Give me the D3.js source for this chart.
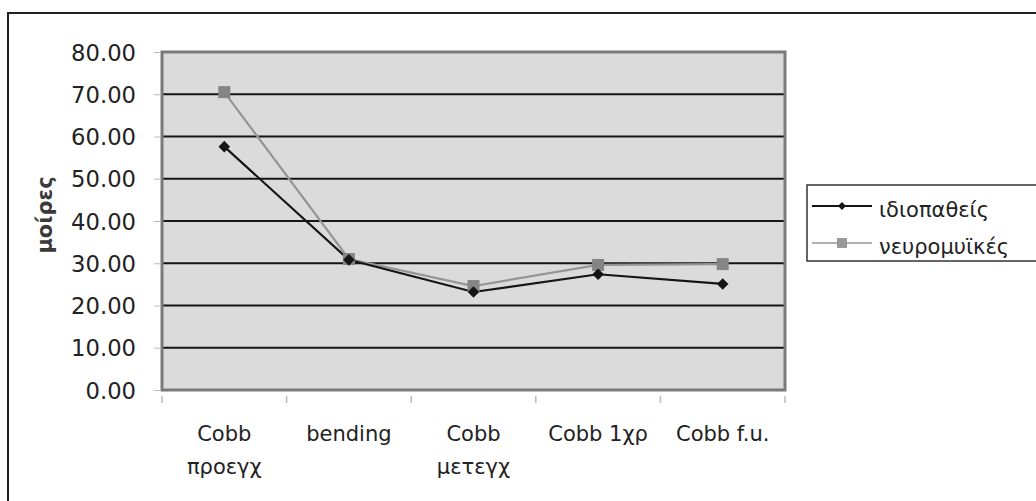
<!DOCTYPE html>
<html>
<head>
<meta charset="utf-8">
<script src="https://cdn.jsdelivr.net/npm/d3@7"></script>
<style>
  html, body { margin: 0; padding: 0; background: #fff; }
  svg { display: block; font-family: "DejaVu Sans", Verdana, sans-serif; }
</style>
</head>
<body>
<svg id="chart" width="1036" height="501"></svg>
<script>
// Categories (multi-line labels) and the two series of mean Cobb angles
const categories = [
  ["Cobb", "προεγχ"],
  ["bending"],
  ["Cobb", "μετεγχ"],
  ["Cobb 1χρ"],
  ["Cobb f.u."]
];
const idiopathic = [57.6, 30.8, 23.2, 27.4, 25.1];
const neuromuscular = [70.5, 31.0, 24.6, 29.6, 29.8];
const seriesNames = ["ιδιοπαθείς", "νευρομυϊκές"];
const yTicks = [0, 10, 20, 30, 40, 50, 60, 70, 80];
const yTitle = "μοίρες";

const svg = d3.select("#chart");

// Outer chart frame (runs off the right and bottom edges)
svg.append("rect")
  .attr("x", 8).attr("y", 13)
  .attr("width", 1100).attr("height", 600)
  .attr("fill", "none").attr("stroke", "#222").attr("stroke-width", 2);

const plot = { left: 162, top: 52, right: 785, bottom: 390 };

const x = d3.scaleBand()
  .domain(d3.range(categories.length))
  .range([plot.left, plot.right])
  .paddingInner(0).paddingOuter(0);

const y = d3.scaleLinear().domain([0, 80]).range([plot.bottom, plot.top]);

// Plot area background
svg.append("rect")
  .attr("x", plot.left).attr("y", plot.top)
  .attr("width", plot.right - plot.left).attr("height", plot.bottom - plot.top)
  .attr("fill", "#dbdbdb");

// Horizontal gridlines
svg.append("g").selectAll("line")
  .data(yTicks.filter(t => t > 0 && t < 80))
  .join("line")
  .attr("x1", plot.left).attr("x2", plot.right)
  .attr("y1", d => y(d)).attr("y2", d => y(d))
  .attr("stroke", "#151515").attr("stroke-width", 2);

// Plot border
svg.append("rect")
  .attr("x", plot.left).attr("y", plot.top)
  .attr("width", plot.right - plot.left).attr("height", plot.bottom - plot.top)
  .attr("fill", "none").attr("stroke", "#7a7a7a").attr("stroke-width", 3);

// Y axis
const yAxis = d3.axisLeft(y).tickValues(yTicks).tickFormat(d3.format(".2f"))
  .tickSize(6).tickPadding(18);
const gy = svg.append("g")
  .attr("transform", `translate(${plot.left - 2},0)`)
  .call(yAxis);
gy.select(".domain").remove();
gy.selectAll(".tick line").attr("stroke", "#bbb");
gy.selectAll(".tick text")
  .attr("font-size", 22.7)
  .attr("font-family", "DejaVu Sans, Verdana, sans-serif")
  .attr("fill", "#222").attr("dy", "0.36em");

// X axis tick marks at category boundaries
const boundaries = d3.range(categories.length + 1).map(i =>
  i < categories.length ? x(i) : x(categories.length - 1) + x.bandwidth());
svg.append("g").selectAll("line")
  .data(boundaries)
  .join("line")
  .attr("x1", d => d).attr("x2", d => d)
  .attr("y1", plot.bottom + 6).attr("y2", plot.bottom + 13)
  .attr("stroke", "#bbb").attr("stroke-width", 1.5);

// Category labels
const cx = i => x(i) + x.bandwidth() / 2;
const labels = svg.append("g")
  .attr("font-size", 21).attr("fill", "#222").attr("text-anchor", "middle");
categories.forEach((lines, i) => {
  lines.forEach((t, j) => {
    labels.append("text")
      .attr("x", cx(i)).attr("y", 441 + j * 33)
      .text(t);
  });
});

// Y axis title
svg.append("text")
  .attr("transform", "translate(52,215) rotate(-90)")
  .attr("text-anchor", "middle")
  .attr("font-size", 21).attr("font-weight", "bold").attr("fill", "#3a3a3a")
  .text(yTitle);

// Series lines and markers
const line = d3.line().x((d, i) => cx(i)).y(d => y(d));

svg.append("path").datum(neuromuscular)
  .attr("d", line).attr("fill", "none")
  .attr("stroke", "#959595").attr("stroke-width", 2.2);
svg.append("path").datum(idiopathic)
  .attr("d", line).attr("fill", "none")
  .attr("stroke", "#151515").attr("stroke-width", 2.2);

svg.append("g").selectAll("rect")
  .data(neuromuscular)
  .join("rect")
  .attr("x", (d, i) => cx(i) - 6).attr("y", d => y(d) - 6)
  .attr("width", 12).attr("height", 12)
  .attr("fill", "#858585");

const diamond = d3.symbol().type(d3.symbolDiamond2).size(85);
svg.append("g").selectAll("path")
  .data(idiopathic)
  .join("path")
  .attr("transform", (d, i) => `translate(${cx(i)},${y(d)})`)
  .attr("d", diamond)
  .attr("fill", "#151515");

// Legend
const legend = svg.append("g");
legend.append("rect")
  .attr("x", 807).attr("y", 185).attr("width", 400).attr("height", 76)
  .attr("fill", "#fff").attr("stroke", "#333").attr("stroke-width", 1.5);

const legendRows = [
  { name: seriesNames[0], y: 206, color: "#151515", marker: "diamond" },
  { name: seriesNames[1], y: 243, color: "#959595", marker: "square" }
];
legendRows.forEach(r => {
  legend.append("line")
    .attr("x1", 812).attr("x2", 872).attr("y1", r.y).attr("y2", r.y)
    .attr("stroke", r.color).attr("stroke-width", r.marker === "diamond" ? 2 : 1.5);
  if (r.marker === "diamond") {
    legend.append("path")
      .attr("transform", `translate(842,${r.y})`)
      .attr("d", d3.symbol().type(d3.symbolDiamond2).size(40))
      .attr("fill", r.color);
  } else {
    legend.append("rect")
      .attr("x", 837).attr("y", r.y - 5).attr("width", 10).attr("height", 10)
      .attr("fill", "#9a9a9a");
  }
  legend.append("text")
    .attr("x", 879).attr("y", r.y + 11)
    .attr("font-size", 21).attr("fill", "#222")
    .text(r.name);
});
</script>
</body>
</html>
